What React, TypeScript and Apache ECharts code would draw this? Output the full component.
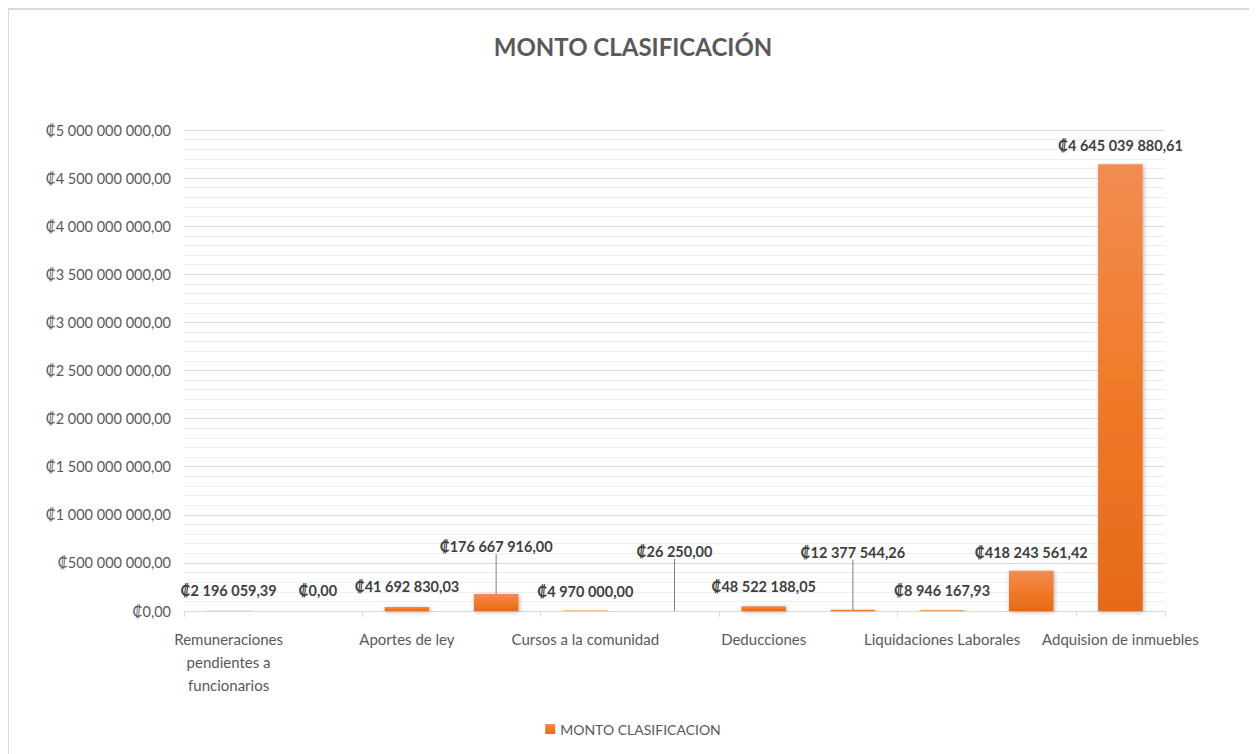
import React, { useEffect, useRef } from "react";
import * as echarts from "echarts";

const categories = [
  "Remuneraciones pendientes a funcionarios",
  "Reintegros",
  "Aportes de ley",
  "Compras",
  "Cursos a la comunidad",
  "Viáticos",
  "Deducciones",
  "Indemnizaciones",
  "Liquidaciones Laborales",
  "Obras",
  "Adquision de inmuebles",
];
const values = [
  2196059.39, 0, 41692830.03, 176667916.0, 4970000.0, 26250.0, 48522188.05,
  12377544.26, 8946167.93, 418243561.42, 4645039880.61,
];
const yMax = 5000000000;
const yStep = 500000000;
const seriesName = "MONTO CLASIFICACION";
const titleText = "MONTO CLASIFICACIÓN";

// label vertical shifts (px) and which labels have a leader line
const labelShift = [-8, -8, -8, -35, -7, -47, -7, -45, -7, -6, -6];
const leaderLine = [false, false, false, true, false, true, false, true, false, false, false];

function fmt(v: number): string {
  const [i, d] = v.toFixed(2).split(".");
  return "₡" + i.replace(/\B(?=(\d{3})+(?!\d))/g, " ") + "," + d;
}

function wrap(s: string, maxChars: number): string {
  const words = s.split(" ");
  const lines: string[] = [];
  let cur = "";
  for (const w of words) {
    const t = cur ? cur + " " + w : w;
    if (t.length > maxChars && cur) {
      lines.push(cur);
      cur = w;
    } else {
      cur = t;
    }
  }
  if (cur) lines.push(cur);
  return lines.join("\n");
}

const FONT = "Lato, 'Open Sans', 'DejaVu Sans', sans-serif";

export default function App() {
  const ref = useRef<HTMLDivElement>(null);
  useEffect(() => {
    if (!ref.current) return;
    const chart = echarts.init(ref.current, null, { renderer: "svg" });
    chart.setOption({
      animation: false,
      backgroundColor: "#ffffff",
      textStyle: { fontFamily: FONT },
      title: {
        text: titleText,
        left: "center",
        top: 19,
        textStyle: { fontFamily: FONT, fontSize: 24, fontWeight: "bold", color: "#595959" },
      },
      legend: {
        bottom: 13,
        left: "center",
        icon: "rect",
        itemWidth: 10,
        itemHeight: 10,
        itemGap: 5,
        textStyle: { fontFamily: FONT, fontSize: 14, color: "#595959" },
        data: [seriesName],
      },
      grid: { left: 175, right: 92, top: 120, bottom: 143, containLabel: false },
      xAxis: {
        type: "category",
        data: categories,
        axisLine: { show: true, lineStyle: { color: "#d9d9d9", width: 1 } },
        axisTick: { show: true, length: 6, lineStyle: { color: "#d9d9d9" } },
        axisLabel: {
          interval: 1,
          margin: 16,
          color: "#595959",
          fontFamily: FONT,
          fontSize: 15,
          lineHeight: 23,
          formatter: (v: string) => wrap(v, 24),
        },
        splitLine: { show: false },
      },
      yAxis: {
        type: "value",
        min: 0,
        max: yMax,
        interval: yStep,
        axisLine: { show: false },
        axisTick: { show: false },
        axisLabel: {
          margin: 13,
          color: "#595959",
          fontFamily: FONT,
          fontSize: 14.5,
          formatter: (v: number) => fmt(v),
        },
        splitLine: { show: true, lineStyle: { color: "#d9d9d9", width: 1 } },
        minorTick: { show: false, splitNumber: 5 },
        minorSplitLine: { show: true, lineStyle: { color: "#efefef", width: 1 } },
      },
      series: [
        {
          name: seriesName,
          type: "bar",
          barWidth: "50%",
          data: values.map((v, i) => ({
            value: v,
            labelLine: { show: leaderLine[i] },
          })),
          itemStyle: {
            color: new echarts.graphic.LinearGradient(0, 0, 0, 1, [
              { offset: 0, color: "#f28c52" },
              { offset: 0.5, color: "#f07a2a" },
              { offset: 1, color: "#e46a19" },
            ]),
            shadowBlur: 4,
            shadowColor: "rgba(0,0,0,0.3)",
            shadowOffsetX: 1,
            shadowOffsetY: 1,
          },
          label: {
            show: true,
            position: "top",
            distance: 5,
            fontFamily: FONT,
            fontSize: 14.5,
            fontWeight: "bold",
            color: "#404040",
            formatter: (p: any) => fmt(p.value),
          },
          labelLine: {
            show: false,
            lineStyle: { color: "#7f7f7f", width: 1 },
          },
          labelLayout: (p: any) => ({ dy: labelShift[p.dataIndex] }),
        },
      ],
    });
    return () => chart.dispose();
  }, []);
  return (
    <div
      style={{
        marginLeft: -1,
        width: 1250,
        height: 746,
        borderTop: "2px solid #d9d9d9",
        borderLeft: "2px solid #d9d9d9",
        boxSizing: "border-box",
        overflow: "hidden",
      }}
    >
      <div ref={ref} style={{ width: 1248, height: 744 }} />
    </div>
  );
}
